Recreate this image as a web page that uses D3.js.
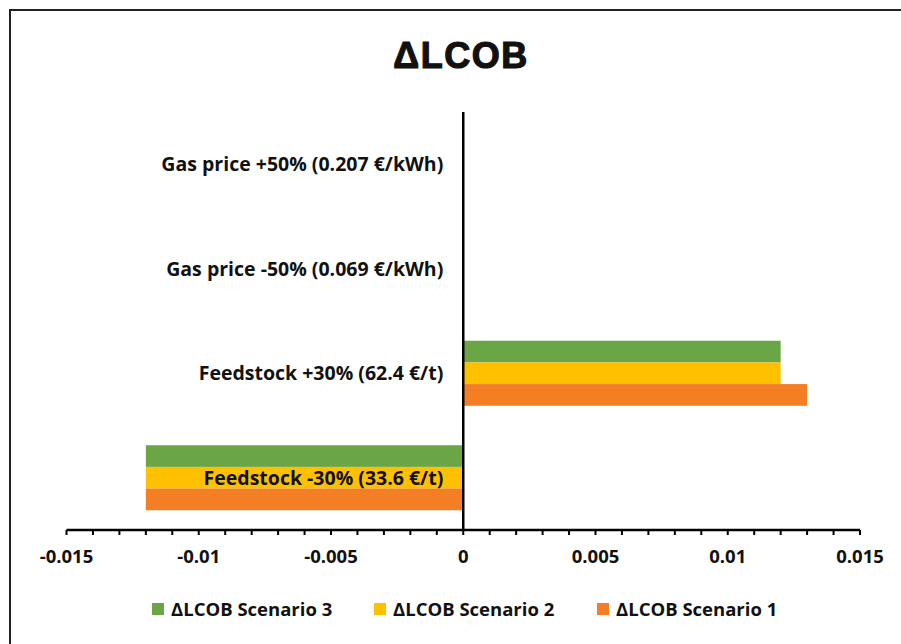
<!DOCTYPE html>
<html>
<head>
<meta charset="utf-8">
<script src="https://cdn.jsdelivr.net/npm/d3@7"></script>
<style>
  body { margin: 0; background: #fff; }
  svg text { font-family: "Open Sans", Lato, sans-serif; font-weight: bold; fill: #111; }
</style>
</head>
<body>
<svg id="chart" width="901" height="644"></svg>
<script>
// ΔLCOB sensitivity chart

const categories = [
  'Gas price +50% (0.207 €/kWh)',
  'Gas price -50% (0.069 €/kWh)',
  'Feedstock +30% (62.4 €/t)',
  'Feedstock -30% (33.6 €/t)'
]

// series drawn top to bottom within each group
const seriesNames = ['ΔLCOB Scenario 3', 'ΔLCOB Scenario 2', 'ΔLCOB Scenario 1']
const seriesColors = ['#6aa546', '#ffc000', '#f47e24']

const scenario3 = [0, 0, 0.012, -0.012]
const scenario2 = [0, 0, 0.012, -0.012]
const scenario1 = [0, 0, 0.013, -0.012]
const seriesValues = [scenario3, scenario2, scenario1]

const xTicks = [-0.015, -0.01, -0.005, 0, 0.005, 0.01, 0.015]
const minorTicks = d3.range(-15, 16).map(d => d / 1000)

const svg = d3.select('#chart')

// outer frame (right and bottom edges fall outside the picture)
svg.append('path')
  .attr('d', 'M10,1000 L10,10 L1000,10')
  .attr('fill', 'none')
  .attr('stroke', '#222')
  .attr('stroke-width', 2)

svg.append('text')
  .attr('x', 461)
  .attr('y', 68)
  .attr('text-anchor', 'middle')
  .style('font-family', '"Liberation Sans", Arial, sans-serif')
  .style('font-weight', '900')
  .style('font-size', '36px')
  .style('letter-spacing', '1.5px')
  .attr('stroke', '#111')
  .attr('stroke-width', 1.2)
  .text('ΔLCOB')

const x = d3.scaleLinear().domain([-0.015, 0.015]).range([66.5, 860])
const y = d3.scaleBand().domain(categories).range([112, 530])
  .paddingInner(0.378).paddingOuter(0.189)
const ySub = d3.scaleBand().domain(d3.range(seriesNames.length)).range([0, y.bandwidth()])

// bars
seriesValues.forEach((vals, si) => {
  svg.append('g')
    .selectAll('rect')
    .data(vals.map((v, i) => ({ v, cat: categories[i] })).filter(d => d.v !== 0))
    .join('rect')
    .attr('x', d => x(Math.min(0, d.v)))
    .attr('y', d => y(d.cat) + ySub(si))
    .attr('width', d => Math.abs(x(d.v) - x(0)))
    .attr('height', ySub.bandwidth())
    .attr('fill', seriesColors[si])
})

// x axis
const axisY = 530
const xAxis = svg.append('g').attr('transform', `translate(0,${axisY})`)
xAxis.append('line')
  .attr('x1', x(-0.015)).attr('x2', x(0.015))
  .attr('stroke', '#000').attr('stroke-width', 2.5)
xAxis.selectAll('.minor')
  .data(minorTicks)
  .join('line')
  .attr('x1', d => x(d)).attr('x2', d => x(d))
  .attr('y1', 0).attr('y2', 5)
  .attr('stroke', '#000').attr('stroke-width', 2)
xAxis.selectAll('.lbl')
  .data(xTicks)
  .join('text')
  .attr('x', d => x(d))
  .attr('y', 33)
  .attr('text-anchor', 'middle')
  .style('font-size', '18.5px')
  .text(d => String(d))

// vertical zero axis
svg.append('line')
  .attr('x1', x(0)).attr('x2', x(0))
  .attr('y1', 112).attr('y2', axisY)
  .attr('stroke', '#000').attr('stroke-width', 2.5)

// category labels next to the axis
svg.selectAll('.cat')
  .data(categories)
  .join('text')
  .attr('x', x(0) - 20)
  .attr('y', d => y(d) + y.bandwidth() / 2 + 7)
  .attr('text-anchor', 'end')
  .style('font-size', '19.5px')
  .text(d => d)

// legend
const legend = svg.append('g')
const legendX = [152, 374, 597]
seriesNames.forEach((name, i) => {
  legend.append('rect')
    .attr('x', legendX[i]).attr('y', 603)
    .attr('width', 12).attr('height', 12)
    .attr('fill', seriesColors[i])
  legend.append('text')
    .attr('x', legendX[i] + 19).attr('y', 616)
    .style('font-size', '18.5px')
    .text(name)
})
</script>
</body>
</html>
